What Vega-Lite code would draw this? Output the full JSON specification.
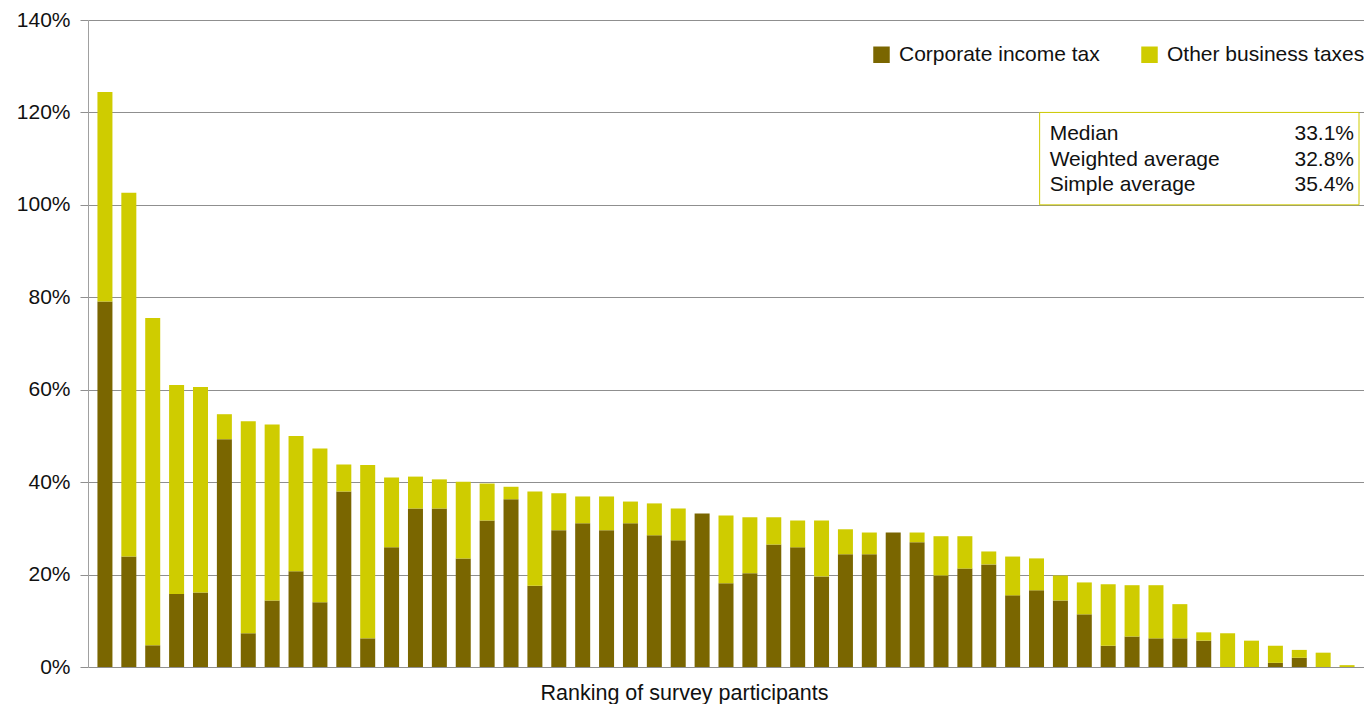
{
  "$schema": "https://vega.github.io/schema/vega-lite/v6.json",
  "autosize": "none",
  "padding": {"left": 88, "top": 20, "right": 0, "bottom": 37},
  "width": 1276,
  "height": 647,
  "background": "white",
  "config": {
    "font": "Liberation Sans",
    "view": {"stroke": null},
    "axis": {"labelFont": "Liberation Sans", "titleFont": "Liberation Sans"}
  },
  "layer": [
    {
      "data": {"values": [
        {"rank": 1, "Corporate income tax": 0.791, "Other business taxes": 0.453},
        {"rank": 2, "Corporate income tax": 0.239, "Other business taxes": 0.787},
        {"rank": 3, "Corporate income tax": 0.047, "Other business taxes": 0.708},
        {"rank": 4, "Corporate income tax": 0.158, "Other business taxes": 0.452},
        {"rank": 5, "Corporate income tax": 0.161, "Other business taxes": 0.445},
        {"rank": 6, "Corporate income tax": 0.493, "Other business taxes": 0.054},
        {"rank": 7, "Corporate income tax": 0.073, "Other business taxes": 0.459},
        {"rank": 8, "Corporate income tax": 0.144, "Other business taxes": 0.381},
        {"rank": 9, "Corporate income tax": 0.207, "Other business taxes": 0.293},
        {"rank": 10, "Corporate income tax": 0.140, "Other business taxes": 0.333},
        {"rank": 11, "Corporate income tax": 0.380, "Other business taxes": 0.058},
        {"rank": 12, "Corporate income tax": 0.062, "Other business taxes": 0.375},
        {"rank": 13, "Corporate income tax": 0.259, "Other business taxes": 0.151},
        {"rank": 14, "Corporate income tax": 0.343, "Other business taxes": 0.069},
        {"rank": 15, "Corporate income tax": 0.343, "Other business taxes": 0.063},
        {"rank": 16, "Corporate income tax": 0.235, "Other business taxes": 0.166},
        {"rank": 17, "Corporate income tax": 0.317, "Other business taxes": 0.080},
        {"rank": 18, "Corporate income tax": 0.363, "Other business taxes": 0.027},
        {"rank": 19, "Corporate income tax": 0.176, "Other business taxes": 0.204},
        {"rank": 20, "Corporate income tax": 0.296, "Other business taxes": 0.080},
        {"rank": 21, "Corporate income tax": 0.311, "Other business taxes": 0.058},
        {"rank": 22, "Corporate income tax": 0.296, "Other business taxes": 0.073},
        {"rank": 23, "Corporate income tax": 0.311, "Other business taxes": 0.047},
        {"rank": 24, "Corporate income tax": 0.285, "Other business taxes": 0.069},
        {"rank": 25, "Corporate income tax": 0.274, "Other business taxes": 0.069},
        {"rank": 26, "Corporate income tax": 0.332, "Other business taxes": 0.0},
        {"rank": 27, "Corporate income tax": 0.181, "Other business taxes": 0.147},
        {"rank": 28, "Corporate income tax": 0.203, "Other business taxes": 0.121},
        {"rank": 29, "Corporate income tax": 0.265, "Other business taxes": 0.059},
        {"rank": 30, "Corporate income tax": 0.259, "Other business taxes": 0.058},
        {"rank": 31, "Corporate income tax": 0.196, "Other business taxes": 0.121},
        {"rank": 32, "Corporate income tax": 0.244, "Other business taxes": 0.054},
        {"rank": 33, "Corporate income tax": 0.244, "Other business taxes": 0.047},
        {"rank": 34, "Corporate income tax": 0.291, "Other business taxes": 0.0},
        {"rank": 35, "Corporate income tax": 0.270, "Other business taxes": 0.021},
        {"rank": 36, "Corporate income tax": 0.198, "Other business taxes": 0.085},
        {"rank": 37, "Corporate income tax": 0.213, "Other business taxes": 0.070},
        {"rank": 38, "Corporate income tax": 0.222, "Other business taxes": 0.028},
        {"rank": 39, "Corporate income tax": 0.155, "Other business taxes": 0.084},
        {"rank": 40, "Corporate income tax": 0.166, "Other business taxes": 0.069},
        {"rank": 41, "Corporate income tax": 0.144, "Other business taxes": 0.054},
        {"rank": 42, "Corporate income tax": 0.114, "Other business taxes": 0.069},
        {"rank": 43, "Corporate income tax": 0.046, "Other business taxes": 0.133},
        {"rank": 44, "Corporate income tax": 0.066, "Other business taxes": 0.111},
        {"rank": 45, "Corporate income tax": 0.062, "Other business taxes": 0.115},
        {"rank": 46, "Corporate income tax": 0.062, "Other business taxes": 0.074},
        {"rank": 47, "Corporate income tax": 0.057, "Other business taxes": 0.018},
        {"rank": 48, "Corporate income tax": 0.0, "Other business taxes": 0.073},
        {"rank": 49, "Corporate income tax": 0.0, "Other business taxes": 0.057},
        {"rank": 50, "Corporate income tax": 0.009, "Other business taxes": 0.037},
        {"rank": 51, "Corporate income tax": 0.020, "Other business taxes": 0.017},
        {"rank": 52, "Corporate income tax": 0.0, "Other business taxes": 0.031},
        {"rank": 53, "Corporate income tax": 0.0, "Other business taxes": 0.004}
      ]},
      "transform": [{"fold": ["Corporate income tax", "Other business taxes"], "as": ["type", "share"]}],
      "mark": {"type": "bar", "size": 15},
      "encoding": {
        "x": {
          "field": "rank", "type": "quantitative",
          "scale": {"domain": [0.5, 53.5], "nice": false, "zero": false},
          "axis": {
            "title": "Ranking of survey participants",
            "labels": false, "ticks": false, "grid": false, "domain": false,
            "titleFontSize": 21.5, "titleFontWeight": "normal", "titleColor": "#111111",
            "titleX": 596, "titleY": 32, "titleAlign": "center", "titleBaseline": "alphabetic"
          }
        },
        "y": {
          "field": "share", "type": "quantitative", "stack": "zero",
          "scale": {"domain": [0, 1.4], "nice": false},
          "axis": {
            "title": null, "format": ".0%",
            "values": [0, 0.2, 0.4, 0.6, 0.8, 1.0, 1.2, 1.4],
            "grid": true, "gridColor": "#8f8f8f", "gridWidth": 1,
            "domainColor": "#a0a0a0", "tickColor": "#8f8f8f", "tickSize": 8,
            "labelFontSize": 21, "labelColor": "#111111", "labelPadding": 10
          }
        },
        "color": {
          "field": "type", "type": "nominal",
          "scale": {"domain": ["Corporate income tax", "Other business taxes"], "range": ["#7a6600", "#cfcc00"]},
          "legend": {
            "orient": "none", "legendX": 783, "legendY": 24, "direction": "horizontal",
            "title": null, "symbolType": "square", "symbolSize": 272, "symbolStrokeWidth": 0,
            "symbolOpacity": 1, "labelFontSize": 21, "labelColor": "#111111", "labelOffset": 7,
            "columnPadding": 39, "labelLimit": 400
          }
        },
        "order": {"field": "type", "sort": "ascending"}
      }
    },
    {
      "data": {"values": [{"box": "stats"}]},
      "mark": {"type": "rect", "fill": "white", "stroke": "#cfcc00", "strokeWidth": 1},
      "encoding": {
        "x": {"datum": 40.13},
        "x2": {"datum": 53.5},
        "y": {"datum": 1.2},
        "y2": {"datum": 1.0}
      }
    },
    {
      "data": {"values": [
        {"stat": "Median", "value": "33.1%"},
        {"stat": "Weighted average", "value": "32.8%"},
        {"stat": "Simple average", "value": "35.4%"}
      ]},
      "layer": [
        {
          "transform": [{"filter": "datum.stat === 'Median'"}],
          "layer": [
            {"mark": {"type": "text", "align": "left", "baseline": "alphabetic", "fontSize": 21, "color": "#111111", "dx": 10},
             "encoding": {"x": {"datum": 40.13}, "y": {"datum": 1.1403}, "text": {"field": "stat"}}},
            {"mark": {"type": "text", "align": "right", "baseline": "alphabetic", "fontSize": 21, "color": "#111111", "dx": -5},
             "encoding": {"x": {"datum": 53.5}, "y": {"datum": 1.1403}, "text": {"field": "value"}}}
          ]
        },
        {
          "transform": [{"filter": "datum.stat === 'Weighted average'"}],
          "layer": [
            {"mark": {"type": "text", "align": "left", "baseline": "alphabetic", "fontSize": 21, "color": "#111111", "dx": 10},
             "encoding": {"x": {"datum": 40.13}, "y": {"datum": 1.0841}, "text": {"field": "stat"}}},
            {"mark": {"type": "text", "align": "right", "baseline": "alphabetic", "fontSize": 21, "color": "#111111", "dx": -5},
             "encoding": {"x": {"datum": 53.5}, "y": {"datum": 1.0841}, "text": {"field": "value"}}}
          ]
        },
        {
          "transform": [{"filter": "datum.stat === 'Simple average'"}],
          "layer": [
            {"mark": {"type": "text", "align": "left", "baseline": "alphabetic", "fontSize": 21, "color": "#111111", "dx": 10},
             "encoding": {"x": {"datum": 40.13}, "y": {"datum": 1.030}, "text": {"field": "stat"}}},
            {"mark": {"type": "text", "align": "right", "baseline": "alphabetic", "fontSize": 21, "color": "#111111", "dx": -5},
             "encoding": {"x": {"datum": 53.5}, "y": {"datum": 1.030}, "text": {"field": "value"}}}
          ]
        }
      ]
    }
  ]
}
